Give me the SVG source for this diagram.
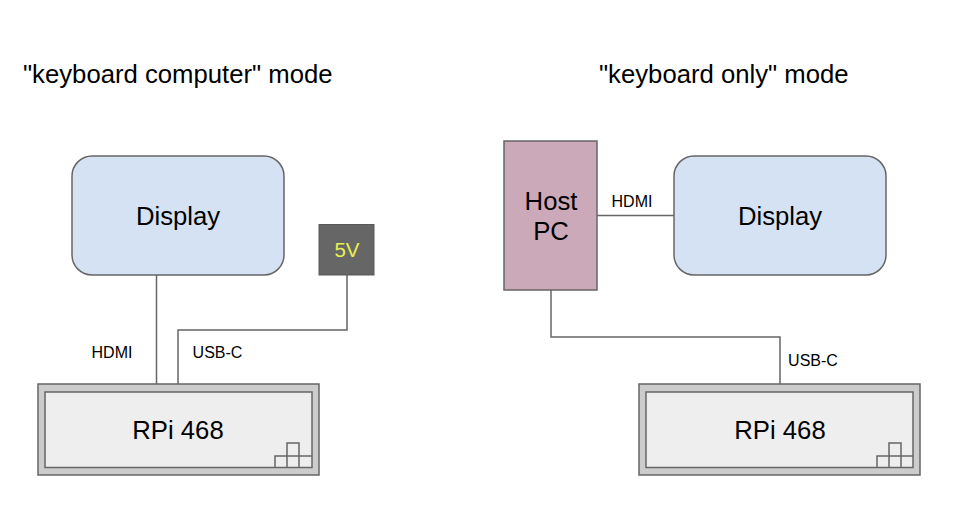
<svg xmlns="http://www.w3.org/2000/svg" width="953" height="512" viewBox="0 0 953 512">
<style>
text{font-family:"Liberation Sans",Arial,sans-serif;fill:#000;text-anchor:middle}
.t{font-size:25.7px;text-anchor:start}
.n{font-size:25.7px}
.l{font-size:16px}
.s{stroke:#666;stroke-width:1.5}
.c{fill:none;stroke:#666;stroke-width:1.5}
.d{fill:#d5e2f3}
.o{fill:#ccc}
.i{fill:#eee}
</style>
<rect width="953" height="512" fill="#fff"/>
<text class="t" x="23" y="83">"keyboard computer" mode</text>
<text class="t" x="599" y="83">"keyboard only" mode</text>
<g id="connectors" class="c">
<path d="M156.500 275V384"/>
<path d="M178 384V330H347V275"/>
<path d="M597 215.500H674"/>
<path d="M551 290V337H780V384"/>
</g>
<g id="labels">
<text class="l" x="112" y="358">HDMI</text>
<text class="l" x="217.500" y="358">USB-C</text>
<text class="l" x="632" y="207">HDMI</text>
<text class="l" x="813" y="366">USB-C</text>
</g>
<g id="display-left">
<rect class="d s" x="72" y="156" width="212" height="119" rx="20"/>
<text class="n" x="178" y="225">Display</text>
</g>
<g id="power">
<rect x="319" y="224.500" width="55" height="50.500" fill="#666" stroke="#595959"/>
<text x="347" y="257" font-size="20.500" style="fill:#e6f04f">5V</text>
</g>
<g id="keyboard-left">
<rect class="o s" x="38" y="384" width="281" height="91"/>
<rect class="i s" x="45" y="392" width="267" height="75.500"/>
<path class="c" d="M275 467V456H312M287 467V443H299V467"/>
<text class="n" x="178" y="439">RPi 468</text>
</g>
<g id="host-pc">
<rect x="504" y="141" width="93" height="149" fill="#cca9b9" stroke="#666" stroke-width="1.500"/>
<text class="n" x="551" y="210">Host</text>
<text class="n" x="551" y="240">PC</text>
</g>
<g id="display-right">
<rect class="d s" x="674" y="156" width="212" height="119" rx="20"/>
<text class="n" x="780" y="225">Display</text>
</g>
<g id="keyboard-right">
<rect class="o s" x="639" y="384" width="281" height="91"/>
<rect class="i s" x="646" y="392" width="267" height="75.500"/>
<path class="c" d="M877 467V456H913M889 467V443H901V467"/>
<text class="n" x="780" y="439">RPi 468</text>
</g>
</svg>
